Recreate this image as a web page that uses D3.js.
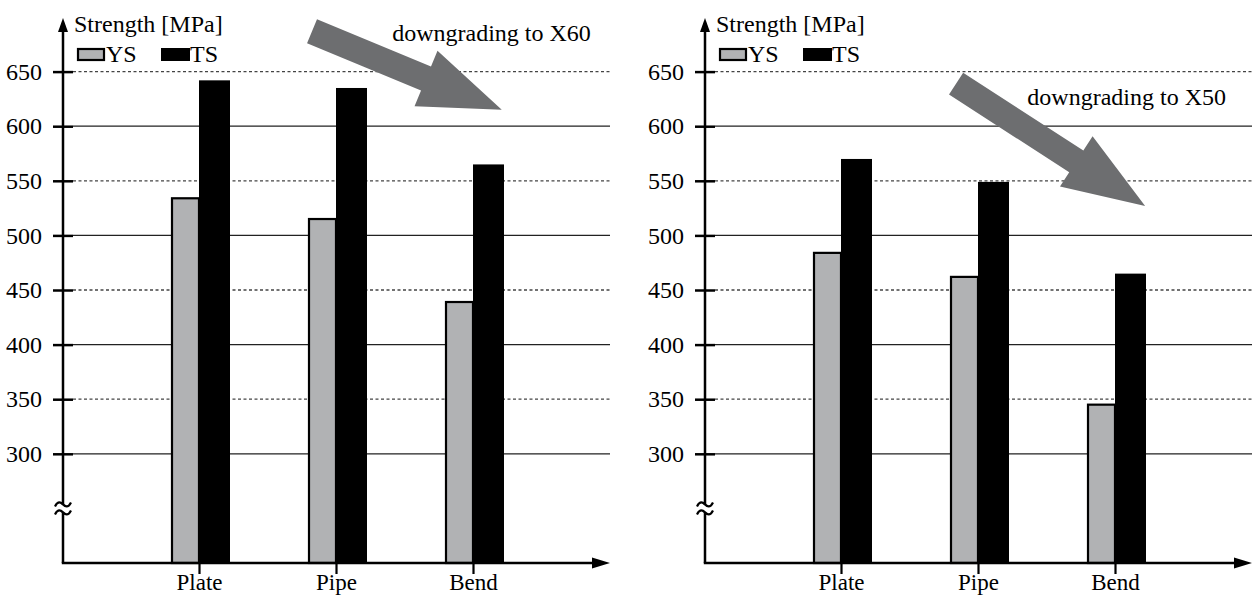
<!DOCTYPE html>
<html lang="en">
  <head>
    <meta charset="UTF-8" />
    <title>strength bars</title>
    <script src="https://cdn.jsdelivr.net/npm/d3@7/dist/d3.min.js"></script>
    <style>
      body { margin: 0; background: #fff; }
      text { font-family: "Liberation Serif", "DejaVu Serif", serif; fill: #000; }
    </style>
  </head>
  <body>
    <div id="wrapper"></div>
    <script>
      const categories = ["Plate", "Pipe", "Bend"];
      const seriesNames = ["YS", "TS"];
      const ysX60 = [534, 515, 439];
      const tsX60 = [642, 635, 565];
      const ysX50 = [484, 462, 345];
      const tsX50 = [570, 549, 465];
      const yTicks = [300, 350, 400, 450, 500, 550, 600, 650];
      const solidTicks = [300, 400, 500, 600];
      const yLabel = "Strength [MPa]";
      const notes = ["downgrading to X60", "downgrading to X50"];
      // arrow [tail idx, tail value, tip idx, tip value], text [idx, value]
      const arrowX60 = [0.825, 687, 2.21, 615];
      const arrowX50 = [0.84, 639, 2.22, 527];
      const noteX60 = [1.41, 678];
      const noteX50 = [1.36, 619];

      const dimensions = {
        width: 1257,
        height: 597,
        panelWidth: 547,
        top: 17,
        bottom: 563,
        offsets: [63, 705],
      };

      const svg = d3
        .select("#wrapper")
        .append("svg")
        .attr("width", dimensions.width)
        .attr("height", dimensions.height);

      const yScale = d3
        .scaleLinear()
        .domain([200, 700])
        .range([dimensions.bottom, dimensions.top]);

      const xScale = d3
        .scalePoint()
        .domain(categories)
        .range([136, 410]);
      const xIdx = d3.scaleLinear().domain([0, 2]).range([136, 410]);

      function drawPanel(offset, ys, ts, arrow, note, noteText) {
        const g = svg.append("g").attr("transform", `translate(${offset},0)`);
        const w = dimensions.panelWidth;

        // grid
        g.selectAll(".grid")
          .data(yTicks)
          .join("line")
          .attr("x1", 10)
          .attr("x2", w)
          .attr("y1", (d) => yScale(d))
          .attr("y2", (d) => yScale(d))
          .attr("stroke", (d) => (solidTicks.includes(d) ? "#222" : "#444"))
          .attr("stroke-width", 1.3)
          .attr("stroke-dasharray", (d) => (solidTicks.includes(d) ? null : "3,2.5"));

        // bars
        const base = yScale(200);
        g.selectAll(".ys")
          .data(ys)
          .join("rect")
          .attr("x", (d, i) => xScale(categories[i]) - 27)
          .attr("y", (d) => yScale(d))
          .attr("width", 27)
          .attr("height", (d) => base - yScale(d))
          .attr("fill", "#b1b2b4")
          .attr("stroke", "#000")
          .attr("stroke-width", 2.2);
        g.selectAll(".ts")
          .data(ts)
          .join("rect")
          .attr("x", (d, i) => xScale(categories[i]))
          .attr("y", (d) => yScale(d))
          .attr("width", 31)
          .attr("height", (d) => base - yScale(d))
          .attr("fill", "#000");

        // y axis ticks + labels
        const yAxis = g
          .append("g")
          .call(d3.axisLeft(yScale).tickValues(yTicks).tickSize(10).tickPadding(11));
        yAxis.select(".domain").remove();
        yAxis.selectAll(".tick line").attr("x1", -10).attr("x2", 10).attr("stroke-width", 2.5);
        yAxis.selectAll(".tick text")
          .style("font-family", "Liberation Serif")
          .style("font-size", "24px")
          .attr("fill", "#000");

        // x axis ticks + labels
        const xAxis = g
          .append("g")
          .attr("transform", `translate(0,${base})`)
          .call(d3.axisBottom(xScale).tickSize(11).tickPadding(0));
        xAxis.select(".domain").remove();
        xAxis.selectAll(".tick line").attr("stroke-width", 2.2);
        xAxis.selectAll(".tick text")
          .style("font-family", "Liberation Serif")
          .style("font-size", "23px")
          .attr("fill", "#000");

        // axis lines with arrows
        g.append("path")
          .attr("d", `M0,${base}V${dimensions.top + 10}`)
          .attr("stroke", "#000")
          .attr("stroke-width", 2.5)
          .attr("fill", "none");
        g.append("path")
          .attr("d", `M0,${dimensions.top + 1}l-5,14h10z`)
          .attr("fill", "#000");
        g.append("path")
          .attr("d", `M-1.2,${base}H${w - 12}`)
          .attr("stroke", "#000")
          .attr("stroke-width", 2.5);
        g.append("path")
          .attr("d", `M${w},${base}l-18,-5.5v11z`)
          .attr("fill", "#000");

        // axis break
        const yb = yScale(250);
        g.append("rect")
          .attr("x", -6)
          .attr("y", yb - 4)
          .attr("width", 12)
          .attr("height", 8)
          .attr("fill", "#fff");
        [-4, 4].forEach((dy) => {
          g.append("path")
            .attr("d", `M-8,${yb + dy + 2}c3,-6 6,-4 8,-2s5,4 8,-2`)
            .attr("stroke", "#000")
            .attr("stroke-width", 2.2)
            .attr("fill", "none");
        });

        // y label + legend
        g.append("text")
          .attr("x", 11)
          .attr("y", 32)
          .style("font-size", "24px")
          .text(yLabel);
        const legend = g.append("g").attr("transform", "translate(14,48)");
        legend.append("rect")
          .attr("x", 1).attr("y", 1).attr("width", 26).attr("height", 11)
          .attr("fill", "#b1b2b4").attr("stroke", "#000").attr("stroke-width", 2.2);
        legend.append("text").attr("x", 29).attr("y", 14).style("font-size", "24px").text(seriesNames[0]);
        legend.append("rect")
          .attr("x", 84).attr("y", 0).attr("width", 29).attr("height", 13)
          .attr("fill", "#000");
        legend.append("text").attr("x", 113).attr("y", 14).style("font-size", "24px").text(seriesNames[1]);

        // big annotation arrow
        const x0 = xIdx(arrow[0]), y0 = yScale(arrow[1]);
        const x1 = xIdx(arrow[2]), y1 = yScale(arrow[3]);
        const len = Math.hypot(x1 - x0, y1 - y0);
        const ang = (Math.atan2(y1 - y0, x1 - x0) * 180) / Math.PI;
        const sw = 13, hw = 30, hl = 82;
        g.append("path")
          .attr("transform", `translate(${x0},${y0}) rotate(${ang})`)
          .attr("d", `M0,${-sw}H${len - hl}V${-hw}L${len},0L${len - hl},${hw}V${sw}H0Z`)
          .attr("fill", "#6d6e70");

        g.append("text")
          .attr("x", xIdx(note[0]))
          .attr("y", yScale(note[1]))
          .style("font-size", "24px")
          .text(noteText);
      }

      drawPanel(dimensions.offsets[0], ysX60, tsX60, arrowX60, noteX60, notes[0]);
      drawPanel(dimensions.offsets[1], ysX50, tsX50, arrowX50, noteX50, notes[1]);
    </script>
  </body>
</html>
